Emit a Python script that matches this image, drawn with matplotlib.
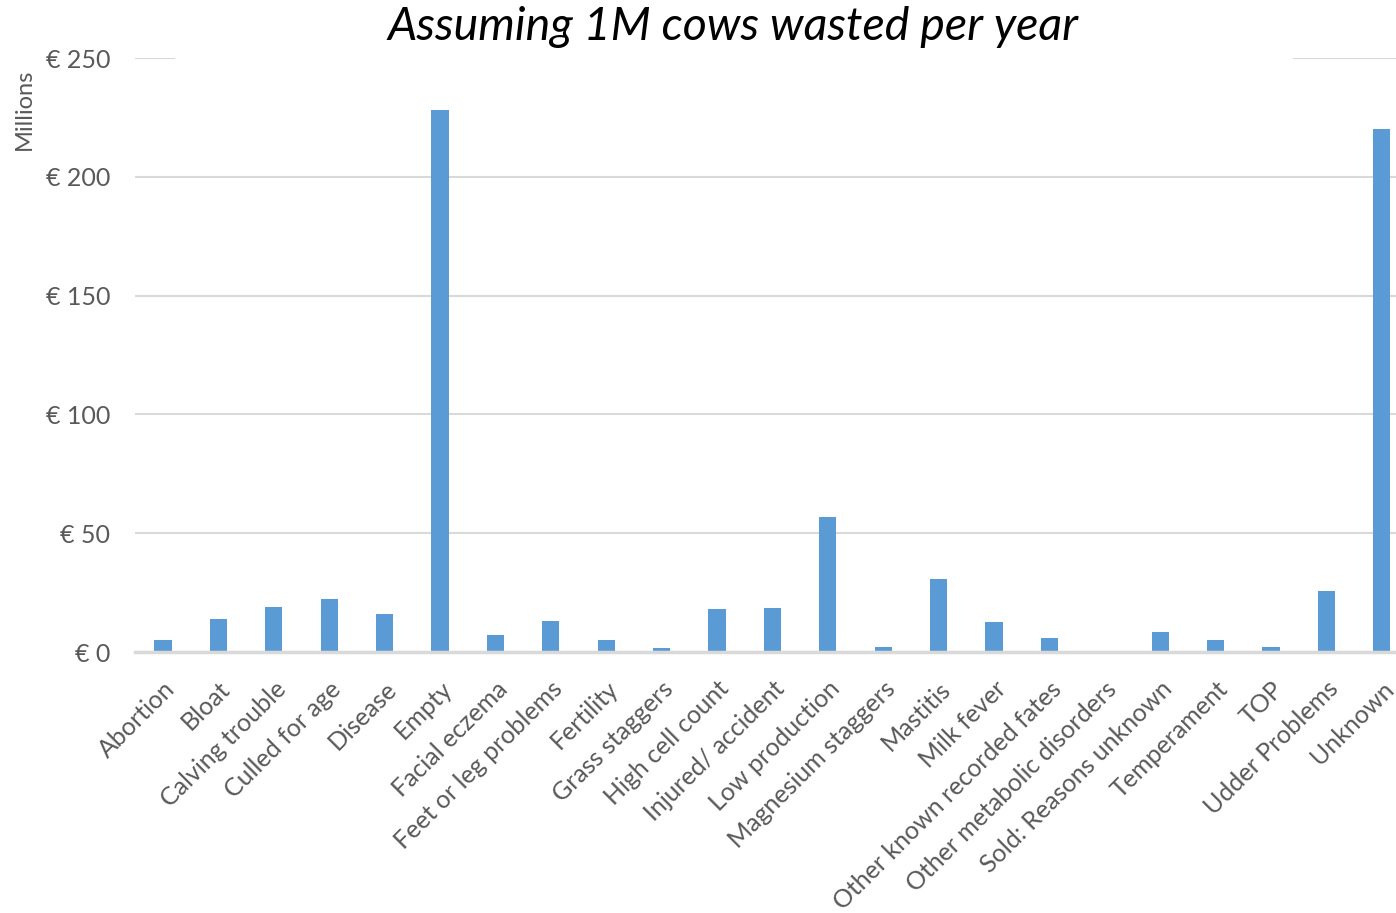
import matplotlib
matplotlib.use('Agg')

import numpy as np
from matplotlib import pyplot as plt
from matplotlib.patches import Rectangle
from matplotlib.ticker import FuncFormatter

categories = ['Abortion', 'Bloat', 'Calving trouble', 'Culled for age', 'Disease',
              'Empty', 'Facial eczema', 'Feet or leg problems', 'Fertility',
              'Grass staggers', 'High cell count', 'Injured/ accident',
              'Low production', 'Magnesium staggers', 'Mastitis', 'Milk fever',
              'Other known recorded fates', 'Other metabolic disorders',
              'Sold: Reasons unknown', 'Temperament', 'TOP', 'Udder Problems',
              'Unknown']
values = [5.2, 14.0, 18.8, 22.4, 16.0, 228.1, 7.2, 12.9, 5.2, 1.7, 18.1, 18.5,
          56.8, 2.1, 30.7, 12.5, 5.8, 0.0, 8.4, 4.9, 2.1, 25.7, 220.1]
yticks = [0, 50, 100, 150, 200, 250]

plt.rcParams['font.family'] = ['Lato', 'DejaVu Sans']
grey = '#595959'
gridc = '#d9d9d9'

fig = plt.figure(figsize=(13.96, 9.13), dpi=100)
W, H = 1396.0, 913.0
ax = fig.add_axes([135.3 / W, 1 - 652 / H, (1409.5 - 135.3) / W, (652 - 58) / H])

x = np.arange(len(categories))
ax.bar(x, values, width=0.31, color='#5B9BD5', zorder=3)

ax.set_xlim(-0.5, len(categories) - 0.5)
ax.set_ylim(0, 250)
ax.set_yticks(yticks)
ax.yaxis.set_major_formatter(FuncFormatter(lambda v, p: '€ %d' % v))
ax.grid(axis='y', color=gridc, linewidth=1.5, zorder=0)
ax.set_axisbelow(True)

for s in ['top', 'right', 'left']:
    ax.spines[s].set_visible(False)
ax.spines['bottom'].set_color(gridc)
ax.spines['bottom'].set_linewidth(2.5)
ax.spines['bottom'].set_zorder(4)

ax.set_xticks(x)
ax.set_xticklabels(categories, rotation=45, ha='right', rotation_mode='anchor',
                   fontsize=18, color=grey)
ax.tick_params(axis='x', length=0, pad=18)
ax.tick_params(axis='y', length=0, pad=18, labelsize=18, labelcolor=grey)

ax.set_ylabel('Millions', fontsize=17, color=grey)
ax.yaxis.set_label_coords(-0.079, 0.914)

# title box hides the middle of the top gridline
fig.patches.append(Rectangle((175 / W, 1 - 75 / H), (1293 - 175) / W, 75 / H,
                             transform=fig.transFigure, facecolor='white',
                             edgecolor='none', zorder=5))
fig.text(733 / W, 1 - 27 / H, 'Assuming 1M cows wasted per year', ha='center',
         va='center', fontsize=33.5, style='italic', color='black', zorder=6)

plt.savefig('out.png', dpi=100)
